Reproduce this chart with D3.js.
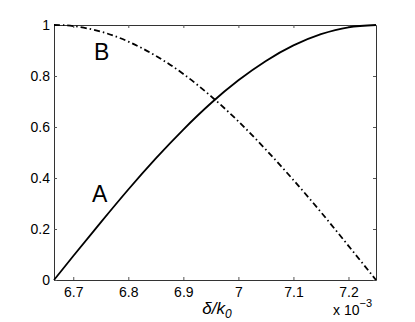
<!DOCTYPE html>
<html>
<head>
<meta charset="utf-8">
<script src="https://cdn.jsdelivr.net/npm/d3@7"></script>
<style>
  body { margin: 0; background: #fff; }
  text { font-family: "Liberation Sans", Arial, sans-serif; }
</style>
</head>
<body>
<div id="chart"></div>
<script>
// values (x in units of 1e-3)
const xVals = [6.665, 6.70, 6.75, 6.80, 6.85, 6.90, 6.95, 7.00, 7.05, 7.10, 7.15, 7.20, 7.25];
const seriesA = [0, 0.094, 0.226, 0.355, 0.477, 0.590, 0.693, 0.783, 0.859, 0.920, 0.964, 0.991, 1.0];
const seriesB = [1.0, 0.996, 0.974, 0.935, 0.879, 0.808, 0.721, 0.622, 0.511, 0.392, 0.266, 0.134, 0];
const xTicks = [6.7, 6.8, 6.9, 7.0, 7.1, 7.2];
const yTicks = [0, 0.2, 0.4, 0.6, 0.8, 1];

const margin = {top: 25, right: 39, bottom: 42, left: 54},
    width = 415 - margin.left - margin.right,
    height = 322 - margin.top - margin.bottom;

const svg = d3.select("#chart")
  .append("svg")
    .attr("width", 415)
    .attr("height", 322)
  .append("g")
    .attr("transform", `translate(${margin.left},${margin.top})`);

const x = d3.scaleLinear().domain([6.665, 7.25]).range([0, width]);
const y = d3.scaleLinear().domain([0, 1]).range([height, 0]);

// axes with inward ticks, MATLAB style
const fmtX = d => d === 7 ? "7" : d3.format(".1f")(d);
const fmtY = d => (d === 0 || d === 1) ? String(d) : d3.format(".1f")(d);

svg.append("g")
  .attr("transform", `translate(0,${height})`)
  .call(d3.axisBottom(x).tickValues(xTicks).tickFormat(fmtX).tickSizeInner(-3).tickSizeOuter(0).tickPadding(7));
svg.append("g")
  .call(d3.axisTop(x).tickValues(xTicks).tickFormat("").tickSizeInner(-3).tickSizeOuter(0));
svg.append("g")
  .call(d3.axisLeft(y).tickValues(yTicks).tickFormat(fmtY).tickSizeInner(-3).tickSizeOuter(0).tickPadding(4));
svg.append("g")
  .attr("transform", `translate(${width},0)`)
  .call(d3.axisRight(y).tickValues(yTicks).tickFormat("").tickSizeInner(-3).tickSizeOuter(0));

svg.selectAll(".domain").attr("stroke", "#333");
svg.selectAll(".tick line").attr("stroke", "#555");
svg.selectAll(".tick text").attr("font-size", 14).attr("fill", "#000")
  .attr("font-family", "Liberation Sans, Arial, sans-serif");

const line = d3.line()
  .x((d, i) => x(xVals[i]))
  .y(d => y(d))
  .curve(d3.curveNatural);

svg.append("path")
  .datum(seriesA)
  .attr("fill", "none")
  .attr("stroke", "#000")
  .attr("stroke-width", 1.8)
  .attr("d", line);

svg.append("path")
  .datum(seriesB)
  .attr("fill", "none")
  .attr("stroke", "#000")
  .attr("stroke-width", 1.8)
  .attr("stroke-dasharray", "6,3,1.5,3")
  .attr("d", line);

// curve labels
svg.append("text")
  .attr("x", 92 - margin.left).attr("y", 202 - margin.top)
  .attr("font-size", 23).text("A");
svg.append("text")
  .attr("x", 94 - margin.left).attr("y", 60 - margin.top)
  .attr("font-size", 23).text("B");

// x label
const xl = svg.append("text")
  .attr("x", width / 2 + 2).attr("y", height + 34)
  .attr("text-anchor", "middle")
  .attr("font-family", "DejaVu Serif, serif")
  .attr("font-style", "italic")
  .attr("font-size", 17);
xl.append("tspan").text("δ/k");
xl.append("tspan").attr("font-size", 12).attr("dy", 4).text("0");

// exponent
const ex = svg.append("text")
  .attr("x", 333 - margin.left).attr("y", 315 - margin.top)
  .attr("font-size", 14);
ex.append("tspan").text("x 10");
ex.append("tspan").attr("font-size", 11).attr("dy", -8).text("−3");
</script>
</body>
</html>
